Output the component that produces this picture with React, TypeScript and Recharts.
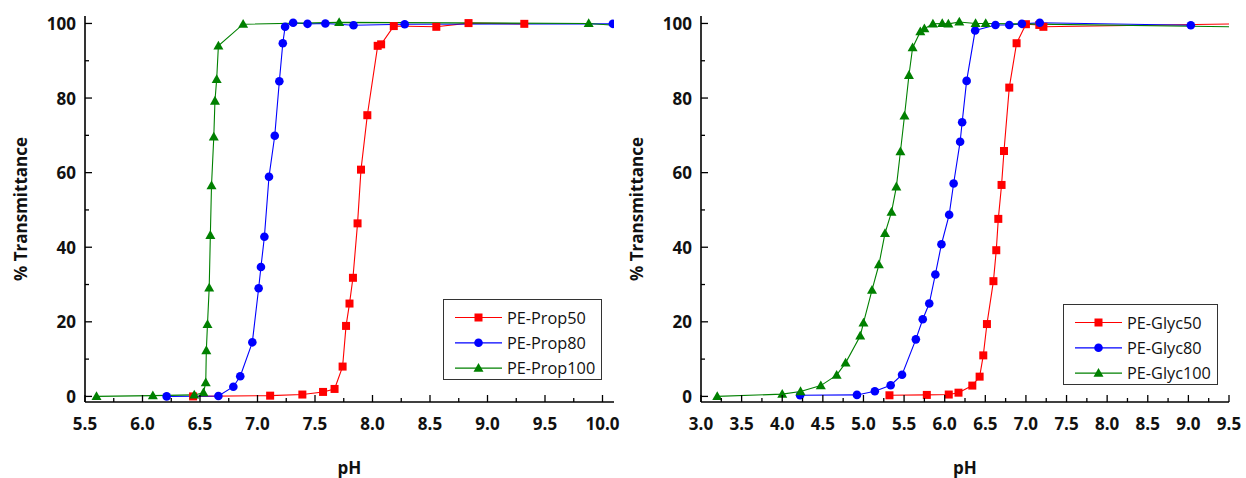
import { LineChart, Line, XAxis, YAxis, Legend } from "recharts";

// left panel: PE-Prop series
const PROP50_PH = [6.44, 7.11, 7.39, 7.57, 7.67, 7.74, 7.77, 7.8, 7.83, 7.87, 7.9, 7.955, 8.045, 8.075, 8.185, 8.555, 8.835, 9.32];
const PROP50_T = [0, 0.2, 0.5, 1.2, 2.0, 8.0, 18.9, 24.9, 31.8, 46.4, 60.8, 75.4, 94.0, 94.4, 99.3, 99.1, 100.1, 99.9];

const PROP80_PH = [6.21, 6.66, 6.79, 6.85, 6.955, 7.01, 7.03, 7.06, 7.1, 7.15, 7.19, 7.22, 7.24, 7.31, 7.435, 7.59, 7.835, 8.28, 10.09];
const PROP80_T = [0, 0.1, 2.6, 5.4, 14.5, 29.0, 34.7, 42.8, 58.9, 69.9, 84.5, 94.7, 99.1, 100.2, 99.9, 100, 99.5, 99.8, 99.9];

const PROP100_PH = [5.6, 6.09, 6.45, 6.53, 6.55, 6.555, 6.565, 6.58, 6.59, 6.6, 6.62, 6.63, 6.645, 6.66, 6.875, 7.71, 9.88, 10.2];
const PROP100_T = [0, 0.2, 0.4, 1.0, 3.7, 12.3, 19.3, 29.1, 43.2, 56.5, 69.6, 79.2, 85.0, 94.0, 99.8, 100.3, 100.0, 99.3];

// right panel: PE-Glyc series
const GLYC50_PH = [5.32, 5.78, 6.05, 6.17, 6.34, 6.43, 6.475, 6.52, 6.6, 6.635, 6.66, 6.7, 6.73, 6.795, 6.885, 7.0, 7.165, 7.215, 9.6];
const GLYC50_T = [0.3, 0.4, 0.5, 1.0, 2.9, 5.3, 11.0, 19.4, 30.9, 39.2, 47.6, 56.7, 65.8, 82.8, 94.7, 99.8, 99.6, 99.1, 99.9];

const GLYC80_PH = [4.22, 4.92, 5.14, 5.335, 5.475, 5.645, 5.73, 5.81, 5.885, 5.96, 6.055, 6.11, 6.19, 6.215, 6.27, 6.375, 6.625, 6.795, 6.95, 7.17, 9.03];
const GLYC80_T = [0.3, 0.4, 1.4, 3.0, 5.8, 15.3, 20.7, 24.9, 32.7, 40.8, 48.7, 57.1, 68.3, 73.5, 84.6, 98.1, 99.6, 99.6, 99.9, 100.2, 99.5];

const GLYC100_PH = [3.2, 4.0, 4.225, 4.475, 4.67, 4.78, 4.96, 5.0, 5.105, 5.19, 5.265, 5.345, 5.405, 5.455, 5.505, 5.56, 5.605, 5.7, 5.75, 5.855, 5.97, 6.045, 6.18, 6.38, 6.505, 9.6];
const GLYC100_T = [0, 0.6, 1.3, 2.9, 5.7, 9.0, 16.2, 19.7, 28.5, 35.3, 43.7, 49.4, 56.2, 65.6, 75.2, 86.1, 93.5, 97.8, 98.6, 99.9, 100.0, 99.9, 100.4, 100.0, 100.0, 99.1];

const Y_TICKS = [0, 10, 20, 30, 40, 50, 60, 70, 80, 90, 100];

const RED = "#ff0000";
const BLUE = "#0000ff";
const GREEN = "#008000";
const FONT = "'Open Sans', 'Noto Sans', sans-serif";

const zip = (ph: number[], t: number[]) => ph.map((p, i) => ({ ph: p, t: t[i] }));

const quarters = (from: number, to: number) => {
  const out: number[] = [];
  for (let v = from; v <= to + 1e-9; v += 0.25) out.push(Math.round(v * 100) / 100);
  return out;
};

const isHalf = (v: number) => Math.abs(v * 2 - Math.round(v * 2)) < 1e-6;

type Shape = "square" | "circle" | "triangle";

const marker = (shape: Shape, cx: number, cy: number, color: string, key?: string) => {
  if (shape === "square")
    return <rect key={key} x={cx - 4} y={cy - 4} width={8} height={8} fill={color} />;
  if (shape === "circle") return <circle key={key} cx={cx} cy={cy} r={4.3} fill={color} />;
  return (
    <polygon
      key={key}
      points={`${cx},${cy - 5.2} ${cx - 5},${cy + 3.6} ${cx + 5},${cy + 3.6}`}
      fill={color}
    />
  );
};

const dotOf = (shape: Shape, color: string) => (props: any) => {
  const { cx, cy, index } = props;
  if (cx == null || cy == null) return <g key={`d-${index}`} />;
  return marker(shape, cx, cy, color, `d-${index}`);
};

const BottomTick = ({ x, y, payload }: any) => {
  const major = isHalf(payload.value);
  return (
    <g>
      <line x1={x} x2={x} y1={y} y2={y - (major ? 7 : 4)} stroke="#000" strokeWidth={1.3} />
      {major && (
        <text
          x={x}
          y={y + 21}
          textAnchor="middle"
          dominantBaseline="central"
          fontFamily={FONT}
          fontWeight={700}
          fontSize={17}
          fill="#111"
        >
          {payload.value.toFixed(1)}
        </text>
      )}
    </g>
  );
};

const TopTick = ({ x, y, payload }: any) => (
  <line x1={x} x2={x} y1={y} y2={y + (isHalf(payload.value) ? 7 : 4)} stroke="#000" strokeWidth={1.3} />
);

const LeftTick = ({ x, y, payload }: any) => {
  const major = payload.value % 20 === 0;
  return (
    <g>
      <line x1={x} x2={x + (major ? 7 : 4)} y1={y} y2={y} stroke="#000" strokeWidth={1.3} />
      {major && (
        <text
          x={x - 9}
          y={y}
          textAnchor="end"
          dominantBaseline="central"
          fontFamily={FONT}
          fontWeight={700}
          fontSize={17}
          fill="#111"
        >
          {payload.value}
        </text>
      )}
    </g>
  );
};

const RightTick = ({ x, y, payload }: any) => (
  <line x1={x} x2={x - (payload.value % 20 === 0 ? 7 : 4)} y1={y} y2={y} stroke="#000" strokeWidth={1.3} />
);

type Series = { name: string; color: string; shape: Shape; data: { ph: number; t: number }[] };

const LegendBox = ({ series, width }: { series: Series[]; width: number }) => (
  <svg width={width} height={81} style={{ display: "block" }}>
    <rect x={0.5} y={0.5} width={width - 1} height={80} fill="#fff" stroke="#333" strokeWidth={1} />
    {series.map((s, i) => {
      const cy = 18.5 + i * 25.3;
      return (
        <g key={s.name}>
          <line x1={12} x2={59} y1={cy} y2={cy} stroke={s.color} strokeWidth={1.2} />
          {marker(s.shape, 35.5, cy, s.color)}
          <text
            x={64}
            y={cy}
            dominantBaseline="central"
            fontFamily={FONT}
            fontSize={16.3}
            fill="#111"
          >
            {s.name}
          </text>
        </g>
      );
    })}
  </svg>
);

type PanelProps = {
  series: Series[];
  domain: [number, number];
  yAxisWidth: number;
  rightMargin: number;
  legendLeft: number;
  legendTop: number;
  legendWidth: number;
};

const Panel = ({ series, domain, yAxisWidth, rightMargin, legendLeft, legendTop, legendWidth }: PanelProps) => {
  const xTicks = quarters(domain[0], Math.floor(domain[1] * 4) / 4);
  return (
    <LineChart width={623} height={478} margin={{ top: 16, right: rightMargin, bottom: 0, left: 0 }}>
      <XAxis
        xAxisId="x"
        dataKey="ph"
        type="number"
        domain={domain}
        allowDataOverflow
        ticks={xTicks}
        interval={0}
        tickSize={0}
        tickMargin={0}
        tick={<BottomTick />}
        height={76}
        axisLine={{ stroke: "#000", strokeWidth: 1.6 }}
        label={{
          value: "pH",
          position: "insideBottom",
          offset: 4,
          style: { fontFamily: FONT, fontWeight: 700, fontSize: 17, fill: "#111" },
        }}
      />
      <XAxis
        xAxisId="xt"
        dataKey="ph"
        type="number"
        orientation="top"
        domain={domain}
        allowDataOverflow
        ticks={xTicks}
        interval={0}
        tickSize={0}
        tickMargin={0}
        tick={<TopTick />}
        height={0}
        axisLine={{ stroke: "#000", strokeWidth: 1.6 }}
      />
      <YAxis
        yAxisId="y"
        type="number"
        domain={[-1.5, 102]}
        allowDataOverflow
        ticks={Y_TICKS}
        interval={0}
        tickSize={0}
        tickMargin={0}
        tick={<LeftTick />}
        width={yAxisWidth}
        axisLine={{ stroke: "#000", strokeWidth: 1.6 }}
        label={{
          value: "% Transmittance",
          angle: -90,
          position: "insideLeft",
          offset: 21 - (85 - yAxisWidth),
          style: { fontFamily: FONT, fontWeight: 700, fontSize: 17, fill: "#111", textAnchor: "middle" },
        }}
      />
      <YAxis
        yAxisId="yr"
        type="number"
        orientation="right"
        domain={[-1.5, 102]}
        allowDataOverflow
        ticks={Y_TICKS}
        interval={0}
        tickSize={0}
        tickMargin={0}
        tick={<RightTick />}
        width={0}
        axisLine={{ stroke: "#000", strokeWidth: 1.6 }}
      />
      {series.map((s) => (
        <Line
          key={s.name}
          xAxisId="x"
          yAxisId="y"
          data={s.data}
          dataKey="t"
          name={s.name}
          type="linear"
          stroke={s.color}
          strokeWidth={1.1}
          dot={dotOf(s.shape, s.color)}
          activeDot={false}
          isAnimationActive={false}
        />
      ))}
      <Legend
        layout="vertical"
        align="center"
        verticalAlign="middle"
        wrapperStyle={{ left: legendLeft, top: legendTop, width: legendWidth, height: 81 }}
        content={() => <LegendBox series={series} width={legendWidth} />}
      />
    </LineChart>
  );
};

const PROP_SERIES: Series[] = [
  { name: "PE-Prop50", color: RED, shape: "square", data: zip(PROP50_PH, PROP50_T) },
  { name: "PE-Prop80", color: BLUE, shape: "circle", data: zip(PROP80_PH, PROP80_T) },
  { name: "PE-Prop100", color: GREEN, shape: "triangle", data: zip(PROP100_PH, PROP100_T) },
];

const GLYC_SERIES: Series[] = [
  { name: "PE-Glyc50", color: RED, shape: "square", data: zip(GLYC50_PH, GLYC50_T) },
  { name: "PE-Glyc80", color: BLUE, shape: "circle", data: zip(GLYC80_PH, GLYC80_T) },
  { name: "PE-Glyc100", color: GREEN, shape: "triangle", data: zip(GLYC100_PH, GLYC100_T) },
];

export default function App() {
  return (
    <div
      style={{
        position: "fixed",
        left: 0,
        top: 0,
        width: 1246,
        height: 478,
        background: "#fff",
        display: "flex",
      }}
    >
      <Panel
        series={PROP_SERIES}
        domain={[5.5, 10.1]}
        yAxisWidth={85}
        rightMargin={9}
        legendLeft={443}
        legendTop={299}
        legendWidth={159}
      />
      <Panel
        series={GLYC_SERIES}
        domain={[3.0, 9.5]}
        yAxisWidth={78}
        rightMargin={17}
        legendLeft={440}
        legendTop={304}
        legendWidth={155}
      />
    </div>
  );
}
